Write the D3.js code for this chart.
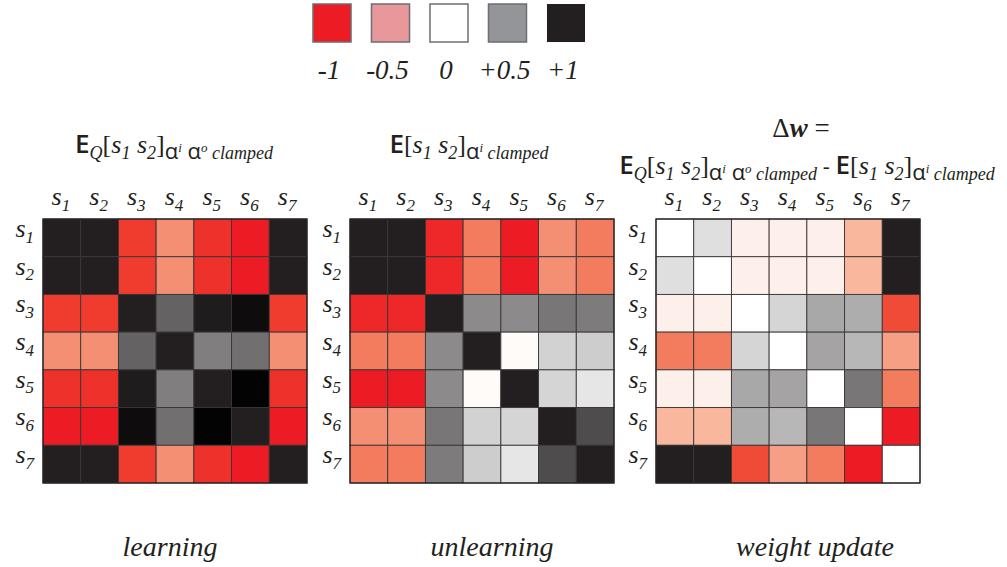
<!DOCTYPE html>
<html>
<head>
<meta charset="utf-8">
<script src="https://cdn.jsdelivr.net/npm/d3@7"></script>
<style>
  html, body { margin: 0; padding: 0; background: #fff; }
  svg { display: block; }
</style>
</head>
<body>
<svg id="chart" width="1007" height="567"></svg>
<script>
// ---------------- data ----------------
const states = ["1", "2", "3", "4", "5", "6", "7"];

const learning = [
  [ 0.90,  0.90, -0.85, -0.50, -0.90, -1.00,  0.90],
  [ 0.90,  0.90, -0.85, -0.50, -0.90, -1.00,  0.90],
  [-0.85, -0.85,  0.90,  0.63,  0.91,  0.96, -0.85],
  [-0.50, -0.50,  0.63,  0.90,  0.52,  0.58, -0.50],
  [-0.90, -0.90,  0.91,  0.52,  0.90,  0.99, -0.90],
  [-1.00, -1.00,  0.96,  0.58,  0.99,  0.90, -1.00],
  [ 0.90,  0.90, -0.85, -0.50, -0.90, -1.00,  0.90]
];

const unlearning = [
  [ 0.90,  0.90, -0.95, -0.60, -1.00, -0.50, -0.60],
  [ 0.90,  0.90, -0.95, -0.60, -1.00, -0.50, -0.60],
  [-0.95, -0.95,  0.90,  0.47,  0.47,  0.55,  0.53],
  [-0.60, -0.60,  0.47,  0.90, -0.03,  0.18,  0.20],
  [-1.00, -1.00,  0.47, -0.03,  0.90,  0.17,  0.10],
  [-0.50, -0.50,  0.55,  0.18,  0.17,  0.90,  0.72],
  [-0.60, -0.60,  0.53,  0.20,  0.10,  0.72,  0.90]
];

const weightUpdate = [
  [ 0.00,  0.13, -0.10, -0.10, -0.10, -0.30,  0.90],
  [ 0.13,  0.00, -0.10, -0.10, -0.10, -0.30,  0.90],
  [-0.10, -0.10,  0.00,  0.17,  0.35,  0.33, -0.78],
  [-0.60, -0.60,  0.17,  0.00,  0.37,  0.29, -0.42],
  [-0.10, -0.10,  0.35,  0.37,  0.00,  0.55, -0.60],
  [-0.30, -0.30,  0.33,  0.29,  0.55,  0.00, -1.00],
  [ 0.90,  0.90, -0.78, -0.42, -0.60, -1.00,  0.00]
];

const legendLabels = ["-1", "-0.5", "0", "+0.5", "+1"];
const legendColors = ["#ed1c24", "#e8979a", "#ffffff", "#939598", "#231f20"];

const bottomLabels = ["learning", "unlearning", "weight update"];

// ---------------- scales ----------------
const redScale = d3.scaleLinear()
  .domain([-1, -0.8, -0.6, -0.45, -0.3, -0.1, 0])
  .range(["#ed1c24", "#ef4632", "#f37b5e", "#f5997d", "#f9b79e", "#fdf0ea", "#ffffff"])
  .clamp(true);
const greyScale = d3.scaleLinear()
  .domain([0, 0.9, 1])
  .range(["#ffffff", "#231f20", "#000000"])
  .clamp(true);
const colour = v => v < 0 ? redScale(v) : greyScale(v);

const svg = d3.select("#chart");
const SERIF = "Liberation Serif";
const SANS = "Open Sans";

// ---------------- helper for rich text ----------------
function rich(g, x, y, segs, anchor) {
  const t = g.append("text").attr("x", x).attr("y", y)
    .attr("text-anchor", anchor || "middle").attr("fill", "#231f20")
    .attr("font-family", SERIF);
  let cur = 0;
  segs.forEach(s => {
    const off = s.off || 0;
    t.append("tspan")
      .attr("dy", off - cur)
      .attr("font-family", s.f || SERIF)
      .attr("font-size", s.sz || 24)
      .attr("font-style", s.it ? "italic" : "normal")
      .attr("font-weight", s.w || "normal")
      .style("white-space", "pre")
      .text(s.t);
    cur = off;
  });
  return t;
}
const sLabel = (n, sz, sub) => [
  { t: "s", it: true, sz: sz },
  { t: n, it: true, sz: sub, off: sz * 0.22 }
];

// ---------------- legend ----------------
const legendX = d3.scaleBand().domain(legendLabels).range([313, 313 + 4 * 58.5 + 38]).paddingInner(0.35);
const legend = svg.append("g");
legend.selectAll("rect").data(legendLabels).join("rect")
  .attr("x", d => legendX(d))
  .attr("y", 4)
  .attr("width", legendX.bandwidth())
  .attr("height", legendX.bandwidth())
  .attr("fill", (d, i) => legendColors[i])
  .attr("stroke", (d, i) => i === 4 ? "none" : "#6d6e71")
  .attr("stroke-width", 1.5);
legend.selectAll("text").data(legendLabels).join("text")
  .attr("x", d => legendX(d) + legendX.bandwidth() / 2 - 3)
  .attr("y", 79)
  .attr("text-anchor", "middle")
  .attr("font-family", SERIF)
  .attr("font-style", "italic")
  .attr("font-size", 27)
  .attr("fill", "#231f20")
  .text(d => d);

// ---------------- matrices ----------------
const matrices = [learning, unlearning, weightUpdate];
const originsX = [43, 350, 656];
const matTop = 219, matSize = 264;
const labelShift = [-5, 10, 27];
const band = d3.scaleBand().domain(states).range([0, matSize]);

matrices.forEach((m, k) => {
  const g = svg.append("g").attr("transform", `translate(${originsX[k]},${matTop})`);
  const cells = [];
  m.forEach((row, i) => row.forEach((v, j) => cells.push({ r: states[i], c: states[j], v })));
  g.selectAll("rect").data(cells).join("rect")
    .attr("x", d => band(d.c))
    .attr("y", d => band(d.r))
    .attr("width", band.bandwidth())
    .attr("height", band.bandwidth())
    .attr("fill", d => colour(d.v))
    .attr("stroke", "#3a3536")
    .attr("stroke-width", 0.9);
  g.append("rect").attr("x", 0).attr("y", 0).attr("width", matSize).attr("height", matSize)
    .attr("fill", "none").attr("stroke", "#231f20").attr("stroke-width", 1.2);

  // column labels
  states.forEach(s => {
    rich(g, band(s) + band.bandwidth() / 2 - 1, -14, sLabel(s, 26, 17), "middle");
  });
  // row labels
  states.forEach(s => {
    rich(g, -9, band(s) + band.bandwidth() / 2 - 1, sLabel(s, 26, 17), "end");
  });

  // bottom label
  svg.append("text")
    .attr("x", originsX[k] + matSize / 2 + labelShift[k])
    .attr("y", 556)
    .attr("text-anchor", "middle")
    .attr("font-family", SERIF)
    .attr("font-style", "italic")
    .attr("font-size", 28)
    .attr("fill", "#231f20")
    .text(bottomLabels[k]);
});

// ---------------- titles ----------------
const EQpart = [
  { t: "E", f: SANS, w: 600, sz: 26 },
  { t: "Q", it: true, sz: 18, off: 6 },
  { t: "[", sz: 26 },
  { t: "s", it: true, sz: 26 },
  { t: "1", it: true, sz: 18, off: 6 },
  { t: " s", it: true, sz: 26 },
  { t: "2", it: true, sz: 18, off: 6 },
  { t: "]", sz: 26 },
  { t: "α", f: SANS, sz: 22, off: 6 },
  { t: "i", it: true, sz: 13, off: -1 },
  { t: " α", f: SANS, sz: 22, off: 6 },
  { t: "o", it: true, sz: 13, off: -1 },
  { t: " clamped", it: true, sz: 18, off: 6 }
];
const Epart = [
  { t: "E", f: SANS, w: 600, sz: 26 },
  { t: "[", sz: 26 },
  { t: "s", it: true, sz: 26 },
  { t: "1", it: true, sz: 18, off: 6 },
  { t: " s", it: true, sz: 26 },
  { t: "2", it: true, sz: 18, off: 6 },
  { t: "]", sz: 26 },
  { t: "α", f: SANS, sz: 22, off: 6 },
  { t: "i", it: true, sz: 13, off: -1 },
  { t: " clamped", it: true, sz: 18, off: 6 }
];
rich(svg, 174, 153, EQpart, "middle");
rich(svg, 469, 153, Epart, "middle");
rich(svg, 801, 137, [
  { t: "Δ", sz: 27 },
  { t: "w", it: true, w: "bold", sz: 27 },
  { t: " =", sz: 27 }
], "middle");
rich(svg, 807, 174, EQpart.concat([{ t: " - ", f: SANS, sz: 22 }]).concat(Epart), "middle");
</script>
</body>
</html>
